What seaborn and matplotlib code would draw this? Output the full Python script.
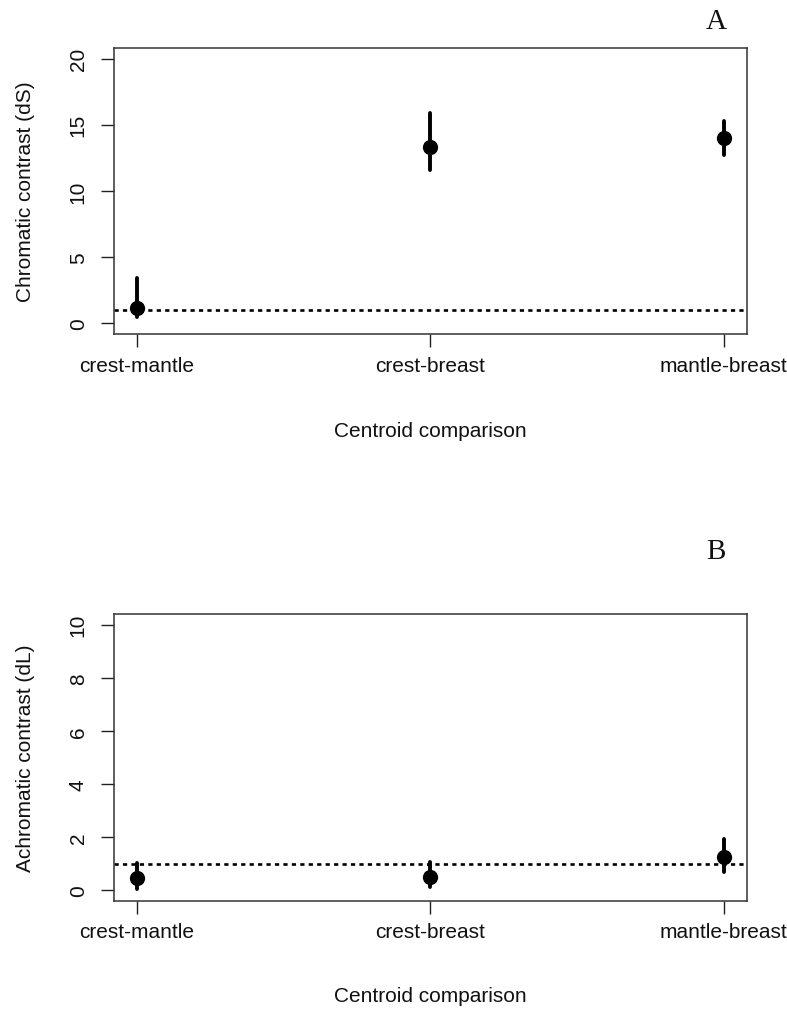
import numpy as np
import pandas as pd
import matplotlib
matplotlib.use("Agg")
import matplotlib.pyplot as plt
import seaborn as sns

# ---- data ----
categories = ["crest-mantle", "crest-breast", "mantle-breast"]

ds_mean = [1.2, 13.3, 14.0]
ds_low = [0.5, 11.6, 12.7]
ds_high = [3.4, 15.9, 15.3]

dl_mean = [0.45, 0.51, 1.25]
dl_low = [0.05, 0.11, 0.68]
dl_high = [1.02, 1.06, 1.93]

threshold = 1.0

ds_ticks = [0, 5, 10, 15, 20]
dl_ticks = [0, 2, 4, 6, 8, 10]

sns.set_theme(style="white")
plt.rcParams["font.family"] = ["Liberation Sans", "DejaVu Sans"]

W, H = 787, 1012
fig = plt.figure(figsize=(W / 100, H / 100), dpi=100)


def px_axes(left, top, right, bottom):
    return fig.add_axes([left / W, 1 - bottom / H, (right - left) / W, (bottom - top) / H])


def long_df(means, lows, highs):
    rows = []
    for c, m, lo, hi in zip(categories, means, lows, highs):
        for v in (lo, m, hi):
            rows.append({"comparison": c, "value": v})
    return pd.DataFrame(rows)


def panel(ax, means, lows, highs, ylim, ticks, ylabel, xlabel_y):
    df = long_df(means, lows, highs)
    sns.pointplot(
        data=df, x="comparison", y="value", order=categories, ax=ax,
        estimator=np.median, errorbar=lambda v: (np.min(v), np.max(v)),
        color="black", linestyle="none", markers="o", markersize=11,
        markeredgewidth=0, err_kws={"linewidth": 2.8}, capsize=0,
    )
    ax.axhline(threshold, color="black", linewidth=1.9, linestyle=(0, (1.6, 1.6)), zorder=1)
    ax.set_xlim(-0.08, 2.08)
    ax.set_ylim(*ylim)
    ax.set_yticks(ticks)
    ax.set_yticklabels([str(t) for t in ticks], rotation=90, va="center")
    ax.tick_params(axis="both", which="major", direction="out", length=9.5,
                   width=1.0, color="#222222", labelsize=15, labelcolor="#111111",
                   left=True, bottom=True)
    ax.tick_params(axis="y", pad=9)
    ax.tick_params(axis="x", pad=6)
    for s in ax.spines.values():
        s.set_visible(True)
        s.set_color("#333333")
        s.set_linewidth(1.1)
    ax.set_ylabel(ylabel, fontsize=15, color="#111111")
    ax.yaxis.label.set_verticalalignment("center")
    ax.yaxis.set_label_coords(-0.1397, 0.5)
    ax.set_xlabel("Centroid comparison", fontsize=15, color="#111111")
    ax.xaxis.label.set_verticalalignment("center")
    ax.xaxis.set_label_coords(0.5, xlabel_y)
    ax.grid(False)


axA = px_axes(113.5, 49, 747, 335)
panel(axA, ds_mean, ds_low, ds_high, (-0.8, 20.8), ds_ticks,
      "Chromatic contrast (dS)", -0.339)

axB = px_axes(113.5, 615, 747, 901.7)
panel(axB, dl_mean, dl_low, dl_high, (-0.4, 10.4), dl_ticks,
      "Achromatic contrast (dL)", -0.332)

fig.text(716 / W, 1 - 22 / H, "A", fontsize=21, family=["Liberation Serif", "DejaVu Serif"],
         ha="center", va="center", color="#111111")
fig.text(716 / W, 1 - 552 / H, "B", fontsize=21, family=["Liberation Serif", "DejaVu Serif"],
         ha="center", va="center", color="#111111")

fig.savefig("out.png", dpi=100)
